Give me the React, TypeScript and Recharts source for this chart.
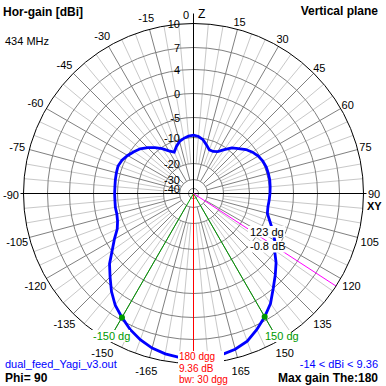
import React from 'react';
import { RadarChart, Radar, PolarGrid, PolarAngleAxis, PolarRadiusAxis } from 'recharts';

// ---- data ----
// angle (deg, 0 = zenith, clockwise), gain (dBi)
const angleDeg = [
  0, 5, 10, 15, 20, 25, 30, 35, 40, 45, 50, 55, 60, 65, 70, 75, 80, 85, 90,
  95, 100, 105, 110, 115, 120, 125, 130, 135, 140, 145, 150, 155, 160, 165, 170, 175, 180,
  -175, -170, -165, -160, -155, -150, -145, -140, -135, -130, -125, -120, -115, -110, -105, -100, -95, -90,
  -85, -80, -75, -70, -65, -60, -55, -50, -45, -40, -35, -30, -25, -20, -15, -10, -5,
];
const gainDbi = [
  -9.4, -9.7, -10.5, -12.2, -13.7, -13.7, -12.9, -10.9, -9.1, -8.1, -6.9, -6.0, -5.3, -4.9, -4.7, -4.7, -4.7, -4.8, -4.9,
  -5.0, -5.1, -4.9, -3.9, -2.6, -1.3, -0.2, 1.3, 2.6, 4.0, 5.4, 6.5, 7.5, 8.4, 8.9, 9.2, 9.33, 9.36,
  9.3, 9.1, 8.75, 8.2, 7.5, 6.6, 5.7, 4.5, 3.0, 1.6, -0.15, -1.8, -3.3, -4.0, -4.3, -4.3, -4.4, -4.4,
  -4.4, -4.3, -4.2, -4.1, -4.4, -5.0, -5.8, -6.6, -7.8, -9.0, -10.5, -12.6, -14.0, -12.3, -10.8, -10.0, -9.6,
];
const ringDb = [10, 7, 4, 0, -5, -10, -20, -30, -40];
const beamAngle = [180];
const bwAngles = [150, -150];
const markerAngle = [123];
const annotation = { markerText: '123 dg', markerDb: '-0.8 dB', beamText: '180 dgg', beamDb: '9.36 dB', bwText: 'bw: 30 dgg' };

// ---- scale (log-like ARRL radial scale, ring radii in px) ----
const C = 193.5;
const R = 170;
const RING_PX = [170, 146, 124, 100, 76, 56, 30, 14, 5];
const ringFrac = RING_PX.map((p) => p / R);

function toFrac(db: number): number {
  if (db >= ringDb[0]) return ringFrac[0] + (db - ringDb[0]) * (ringFrac[0] - ringFrac[1]) / (ringDb[0] - ringDb[1]);
  for (let i = 0; i < ringDb.length - 1; i++) {
    const a = ringDb[i], b = ringDb[i + 1];
    if (db <= a && db >= b) {
      return ringFrac[i + 1] + (db - b) * (ringFrac[i] - ringFrac[i + 1]) / (a - b);
    }
  }
  const last = ringFrac[ringFrac.length - 1];
  return Math.max(0, last * (1 - (ringDb[ringDb.length - 1] - db) / 10));
}

const rows = angleDeg.map((a, i) => ({ angle: a, gain: gainDbi[i], r: toFrac(gainDbi[i]) }));

const toRechartsAngle = (a: number) => 90 - a;
const lightSpokes = Array.from({ length: 72 }, (_, i) => i * 5).filter((a) => a % 15 !== 0);
const darkSpokes = Array.from({ length: 24 }, (_, i) => i * 15);

const FONT = '"Liberation Sans", Arial, sans-serif';
const W = 386;
const margin0 = { top: 0, right: 0, bottom: 0, left: 0 };
const layerStyle: React.CSSProperties = { position: 'absolute', left: 0, top: 0 };

const Layer = ({ inner, outer, children }: { inner: number; outer: number; children: React.ReactNode }) => (
  <div style={layerStyle}>
    <RadarChart width={W} height={W} cx={C} cy={C} innerRadius={inner} outerRadius={outer} margin={margin0} data={rows}>
      {children}
    </RadarChart>
  </div>
);

const renderAngleTick = (props: any) => {
  const { x, y, payload } = props;
  const v = Number(payload.value);
  if (v % 15 !== 0 || v === 180) return <g />;
  const dx = x - C, dy = y - C;
  const len = Math.hypot(dx, dy) || 1;
  const ux = dx / len, uy = dy / len;
  const common = { fontFamily: FONT, fontSize: 11, fill: '#000' } as any;
  if (v === 0) {
    return (
      <g>
        <text {...common} x={x - 4.5} y={y + 4.5} textAnchor="end" dominantBaseline="central">0</text>
        <text {...common} fontSize={12} x={x + 4.5} y={y + 3.5} textAnchor="start" dominantBaseline="central">Z</text>
      </g>
    );
  }
  if (v === 90) {
    return (
      <g>
        <text {...common} x={x - 8.5} y={y + 0.5} textAnchor="start" dominantBaseline="central">90</text>
        <text {...common} fontWeight="bold" x={x - 9.5} y={y + 12.5} textAnchor="start" dominantBaseline="central">XY</text>
      </g>
    );
  }
  const upperRight = v > 0 && v < 90;
  const rr = upperRight ? 178 : 182.5;
  const tx = C + ux * rr;
  const ty = C + uy * rr + (upperRight ? 0 : 1);
  return (
    <text {...common} x={tx} y={ty} textAnchor="middle" dominantBaseline="central">{v}</text>
  );
};

const renderRadiusTick = (props: any) => {
  const { x, y, index } = props;
  return (
    <text x={x - 13.5} y={y + 0.5} textAnchor="end" dominantBaseline="central" fontFamily={FONT} fontSize={11} fill="#000">
      {ringDb[index]}
    </text>
  );
};

const renderDot = (props: any) => {
  const { cx, cy, index } = props;
  const a = angleDeg[index];
  if (bwAngles.includes(a)) {
    return <circle key={`dot-${index}`} cx={cx} cy={cy} r={3} fill="#009900" stroke="none" />;
  }
  return <g key={`dot-${index}`} />;
};

export default function App() {
  const txt = { fontFamily: FONT, fontSize: 11 } as any;
  return (
    <div style={{ position: 'fixed', left: 0, top: 0, width: W, height: W, background: '#fff', overflow: 'hidden' }}>
      {/* light 5-degree spokes */}
      <Layer inner={30} outer={R}>
        <PolarGrid gridType="circle" polarAngles={lightSpokes} polarRadius={[]} stroke="#c8c8c8" />
      </Layer>
      {/* dark 15-degree spokes and dB rings */}
      <Layer inner={14} outer={R}>
        <PolarGrid gridType="circle" polarAngles={darkSpokes} polarRadius={[]} stroke="#808080" />
        <PolarGrid gridType="circle" radialLines={false} polarAngles={[]} polarRadius={RING_PX.slice(1)} stroke="#808080" />
      </Layer>
      {/* axes */}
      <Layer inner={0} outer={173}>
        <PolarGrid gridType="circle" polarAngles={[0, 180]} polarRadius={[]} stroke="#000" />
      </Layer>
      <Layer inner={0} outer={180}>
        <PolarGrid gridType="circle" polarAngles={[90]} polarRadius={[]} stroke="#000" />
      </Layer>
      {/* main pattern */}
      <Layer inner={0} outer={R}>
        <PolarGrid gridType="circle" polarAngles={beamAngle.map(toRechartsAngle)} polarRadius={[]} stroke="#ff0000" />
        <PolarGrid gridType="circle" polarAngles={bwAngles.map(toRechartsAngle)} polarRadius={[]} stroke="#009900" />
        <PolarGrid gridType="circle" polarAngles={markerAngle.map(toRechartsAngle)} polarRadius={[]} stroke="#ff00ff" />
        <PolarAngleAxis dataKey="angle" axisLineType="circle" axisLine={{ stroke: '#000' }} tickLine={false} tickSize={13} tick={renderAngleTick} />
        <PolarRadiusAxis angle={90} type="number" domain={[0, 1]} ticks={ringFrac} axisLine={false} tickLine={false} tick={renderRadiusTick} />
        <Radar dataKey="r" stroke="#0000ff" strokeWidth={2.8} fill="none" fillOpacity={0} isAnimationActive={false} dot={renderDot} />
      </Layer>
      {/* annotations */}
      <svg width={W} height={W} style={{ position: 'absolute', left: 0, top: 0 }}>
        <text {...txt} fontSize={12} fontWeight="bold" x={3} y={16} fill="#000">Hor-gain [dBi]</text>
        <text {...txt} x={5} y={45} fill="#000">434 MHz</text>
        <text {...txt} fontSize={12} fontWeight="bold" x={378} y={15} textAnchor="end" fill="#000">Vertical plane</text>

        <rect x={248} y={226} width={37} height={11.5} fill="#fff" />
        <text {...txt} x={250} y={235.5} fill="#000">{annotation.markerText}</text>
        <rect x={248} y={241} width={37} height={11.5} fill="#fff" />
        <text {...txt} x={250} y={249.5} fill="#000">{annotation.markerDb}</text>

        <rect x={263} y={330} width={28} height={12} fill="#fff" />
        <text {...txt} x={265} y={339.5} fill="#009900">{`${bwAngles[0]} dg`}</text>
        <rect x={91} y={330} width={39} height={12} fill="#fff" />
        <text {...txt} x={93} y={339.5} fill="#009900">{`${bwAngles[1]} dg`}</text>

        <rect x={178} y={351} width={46} height={35} fill="#fff" />
        <text {...txt} fontSize={10} x={179} y={360} fill="#ff0000">{annotation.beamText}</text>
        <text {...txt} fontSize={10} x={179} y={372} fill="#ff0000">{annotation.beamDb}</text>
        <text {...txt} fontSize={10} x={179} y={383} fill="#ff0000">{annotation.bwText}</text>

        <text {...txt} x={5} y={367.5} fill="#0000ff">dual_feed_Yagi_v3.out</text>
        <text {...txt} fontSize={12} fontWeight="bold" x={5} y={382} fill="#000">Phi= 90</text>
        <text {...txt} x={378} y={367.5} textAnchor="end" fill="#0000ff">-14 &lt; dBi &lt; 9.36</text>
        <text {...txt} fontSize={12} fontWeight="bold" x={378} y={382} textAnchor="end" fill="#000">Max gain The:180</text>
      </svg>
    </div>
  );
}
